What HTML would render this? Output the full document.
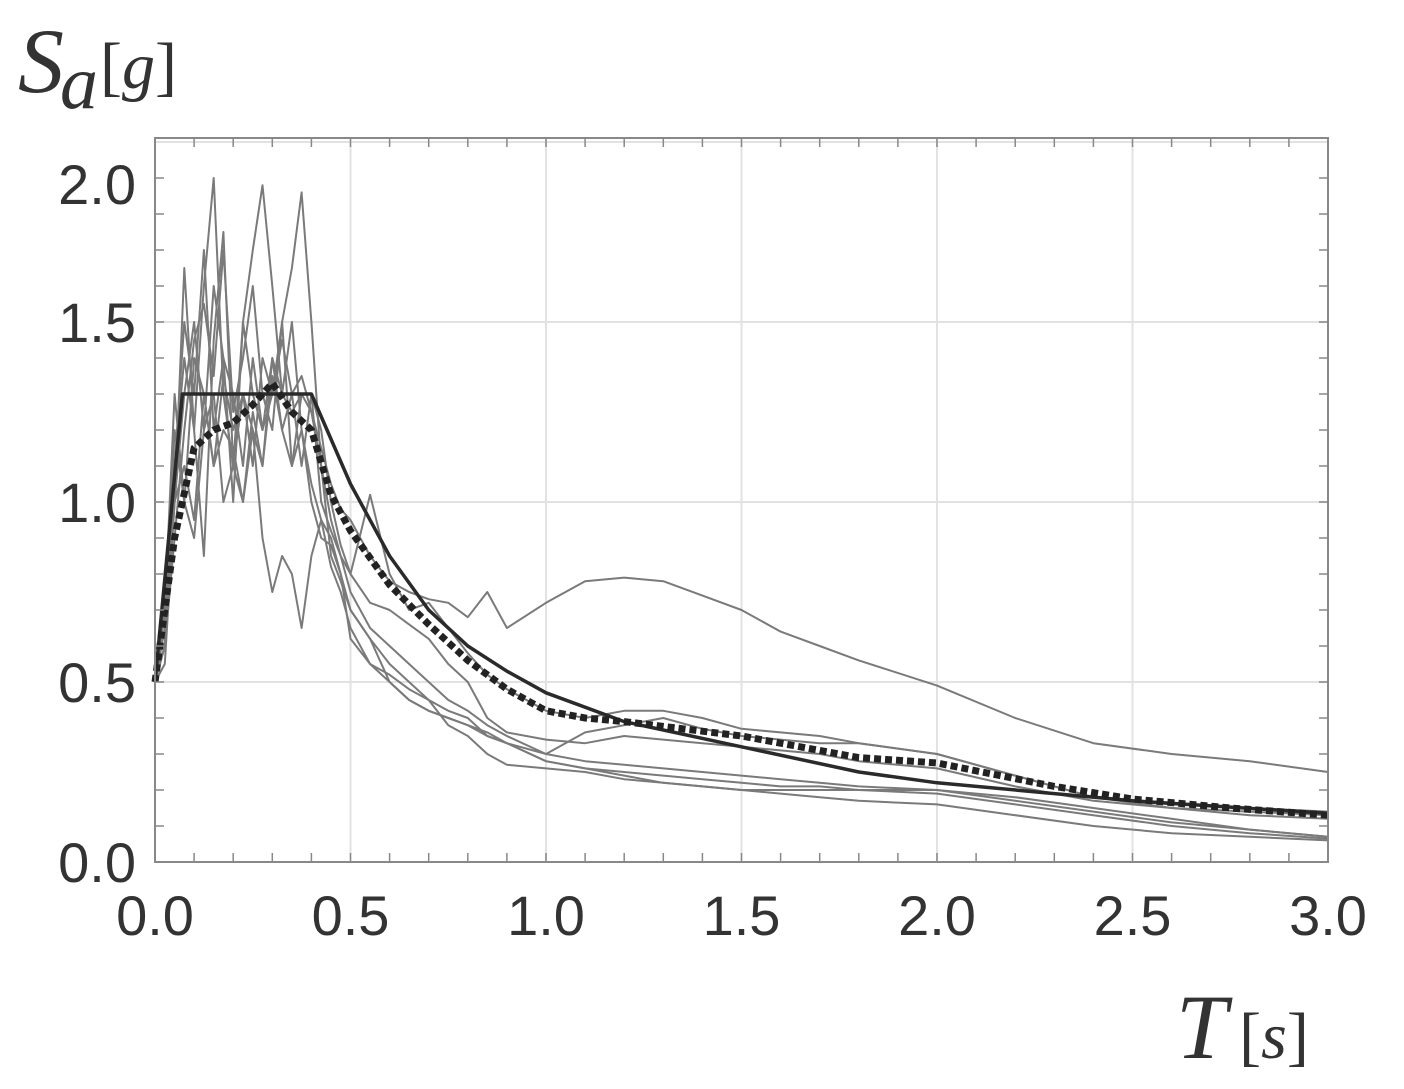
<!DOCTYPE html>
<html><head><meta charset="utf-8"><style>
body{margin:0;background:#fff;}
svg{display:block}
</style></head><body>
<svg id="chart" width="1404" height="1089" viewBox="0 0 1404 1089" xmlns="http://www.w3.org/2000/svg">
<g id="grid"></g>
<g id="series"></g>
<g id="axes"></g>
<text x="18" y="92" font-family="Liberation Serif, serif" font-style="italic" font-size="92" fill="#333">S<tspan font-size="76" dy="16" dx="-4">a</tspan><tspan font-style="normal" font-size="66" dy="-20" dx="2">[</tspan><tspan font-size="66">g</tspan><tspan font-style="normal" font-size="66">]</tspan></text>
<text x="1176" y="1058" font-family="Liberation Serif, serif" font-style="italic" font-size="92" fill="#333">T<tspan font-style="normal" font-size="66" dx="12">[</tspan><tspan font-size="66">s</tspan><tspan font-style="normal" font-size="66">]</tspan></text>
</svg>
<script>
const T=[0,.025,.05,.075,.1,.125,.15,.175,.2,.225,.25,.275,.3,.325,.35,.375,.4,.425,.45,.475,.5,.55,.6,.65,.7,.75,.8,.85,.9,1.0,1.1,1.2,1.3,1.4,1.5,1.6,1.7,1.8,2.0,2.2,2.4,2.6,2.8,3.0];
const rec1=[.5,.7,1.1,1.4,1.2,1.6,1.9,1.3,1.1,1.5,1.3,1.2,1.4,1.3,1.25,1.3,1.25,1.1,.95,.85,.75,.65,.6,.55,.5,.45,.42,.38,.35,.3,.28,.27,.26,.25,.24,.23,.22,.21,.2,.17,.14,.11,.09,.07];
const rec2=[.5,.6,1.0,1.3,1.5,1.2,1.6,1.4,1.0,1.5,1.7,1.88,1.6,1.3,1.5,1.2,1.0,.9,.88,.8,.7,.62,.55,.5,.45,.42,.4,.35,.33,.28,.26,.25,.24,.23,.22,.21,.21,.2,.19,.16,.13,.1,.08,.065];
const rec3=[.5,.65,1.2,1.0,1.4,1.3,1.1,1.35,1.2,1.3,1.1,1.4,1.3,1.5,1.65,1.86,1.5,1.1,.85,.78,.7,.62,.5,.45,.42,.4,.38,.35,.33,.3,.36,.38,.4,.37,.35,.34,.33,.33,.3,.24,.18,.15,.13,.12];
const rec4=[.5,.7,1.3,1.0,.9,1.2,1.3,1.0,1.1,1.0,1.2,.9,.75,.85,.8,.65,.85,.95,.9,.8,.62,.55,.5,.45,.42,.4,.38,.36,.33,.28,.26,.24,.22,.21,.2,.2,.2,.2,.2,.18,.15,.12,.09,.07];
const rec5=[.5,.6,1.1,1.5,1.3,1.7,1.2,1.4,1.3,1.1,1.4,1.2,1.3,1.45,1.3,1.35,1.25,1.15,1.05,.98,.95,.85,.78,.75,.73,.72,.68,.75,.65,.72,.78,.79,.78,.74,.7,.64,.6,.56,.49,.4,.33,.3,.28,.25];
const rec6=[.5,.55,1.0,1.65,1.2,.85,1.45,1.75,1.1,1.3,1.2,1.1,1.35,1.2,1.1,1.3,1.3,1.0,.92,.85,.8,1.02,.8,.7,.72,.65,.58,.52,.48,.42,.4,.42,.42,.4,.37,.36,.35,.33,.3,.24,.18,.16,.15,.14];
const rec7=[.5,.6,.9,1.2,1.45,1.55,1.35,1.7,1.25,1.4,1.6,1.3,1.2,1.5,1.1,1.2,1.05,.95,.82,.75,.65,.55,.52,.48,.45,.38,.35,.3,.27,.26,.25,.23,.22,.21,.2,.19,.18,.17,.16,.13,.1,.08,.07,.06];
const rec8=[.5,.65,1.0,1.1,.95,1.3,1.1,1.2,1.15,1.0,1.25,1.1,1.4,1.2,1.3,1.1,1.3,1.2,1.0,.88,.8,.72,.7,.66,.62,.55,.5,.4,.36,.34,.33,.35,.34,.33,.32,.31,.3,.28,.26,.21,.17,.15,.14,.13];
const codeT=[0,.07,.4,.5,.6,.7,.8,.9,1.0,1.2,1.5,1.8,2.0,2.5,3.0];
const codeSa=[.5,1.3,1.3,1.05,.85,.7,.6,.53,.47,.39,.32,.25,.22,.17,.135];
const meanT=[0,.05,.1,.15,.2,.25,.3,.35,.4,.45,.5,.6,.7,.8,.9,1.0,1.1,1.2,1.35,1.5,1.65,1.8,2.0,2.3,2.5,2.75,3.0];
const meanSa=[.5,.9,1.15,1.2,1.22,1.27,1.33,1.25,1.2,1.02,.92,.77,.66,.56,.48,.42,.4,.39,.37,.35,.32,.29,.275,.21,.175,.15,.13];
const xTicks=["0.0","0.5","1.0","1.5","2.0","2.5","3.0"];
const yTicks=["0.0","0.5","1.0","1.5","2.0"];
const NS="http://www.w3.org/2000/svg";
const X0=155,X1=1328,Y0=862,YT=142,XMAX=3,YMAX=2;
const xs=t=>X0+(X1-X0)*t/XMAX, ys=v=>Y0-(Y0-YT)*v/YMAX;
function mk(tag,attrs,parent){const e=document.createElementNS(NS,tag);for(const k in attrs)e.setAttribute(k,attrs[k]);parent.appendChild(e);return e;}
const grid=document.getElementById('grid'),axes=document.getElementById('axes'),series=document.getElementById('series');
xTicks.forEach(s=>{const x=xs(parseFloat(s));const l=mk('line',{x1:x,x2:x,y1:138,y2:Y0,stroke:'#e2e2e2','stroke-width':2},grid);


const t=mk('text',{x:x,y:935,'text-anchor':'middle','font-family':'Liberation Sans, sans-serif','font-size':56,fill:'#333'},axes);t.textContent=s;

});
yTicks.forEach(s=>{const v=parseFloat(s);const y=ys(v);const l=mk('line',{x1:X0,x2:X1,y1:y,y2:y,stroke:'#e2e2e2','stroke-width':2},grid);


const ly=v>=2?y+62:y+20;
const t=mk('text',{x:136,y:ly,'text-anchor':'end','font-family':'Liberation Sans, sans-serif','font-size':56,fill:'#333'},axes);t.textContent=s;

});
for(let i=1;i<30;i++){const x=xs(i*0.1);mk('line',{x1:x,x2:x,y1:Y0,y2:Y0-9,stroke:'#888','stroke-width':1.5},axes);mk('line',{x1:x,x2:x,y1:138,y2:147,stroke:'#888','stroke-width':1.5},axes);}
for(let i=1;i<20;i++){const y=ys(i*0.1);mk('line',{x1:X0,x2:X0+9,y1:y,y2:y,stroke:'#888','stroke-width':1.5},axes);mk('line',{x1:X1,x2:X1-9,y1:y,y2:y,stroke:'#888','stroke-width':1.5},axes);}
const fr=mk('rect',{x:X0,y:138,width:X1-X0,height:Y0-138,fill:'none',stroke:'#888','stroke-width':2},axes);


function pts(tt,vv){return tt.map((t,i)=>xs(t).toFixed(1)+','+ys(vv[i]).toFixed(1)).join(' ');}
[rec1,rec2,rec3,rec4,rec5,rec6,rec7,rec8].forEach((r,i)=>{const p=mk('polyline',{points:pts(T,r),fill:'none',stroke:'#7a7a7a','stroke-width':2,'stroke-linejoin':'round'},series);

});
const c=mk('polyline',{points:pts(codeT,codeSa),fill:'none',stroke:'#2a2a2a','stroke-width':3.5,'stroke-linejoin':'round'},series);


const m=mk('polyline',{points:pts(meanT,meanSa),fill:'none',stroke:'#222','stroke-width':7,'stroke-dasharray':'7,4'},series);


</script>
</body></html>
